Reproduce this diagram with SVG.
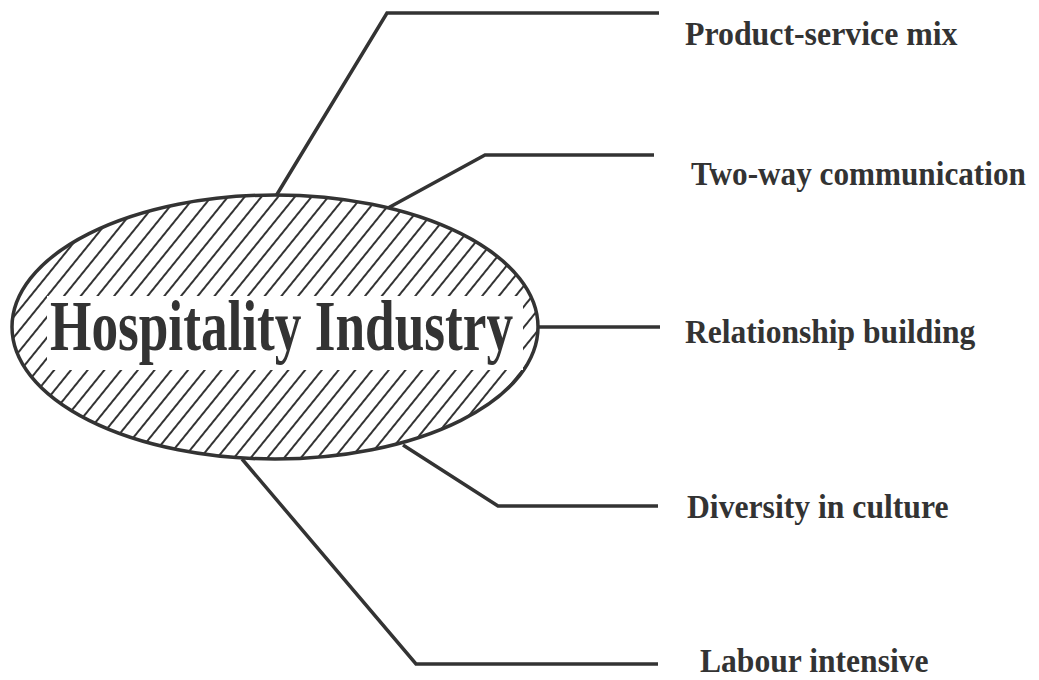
<svg xmlns="http://www.w3.org/2000/svg" width="1039" height="680" viewBox="0 0 1039 680">
  <style>
    .conn { fill: none; stroke: #333; stroke-width: 3.5; stroke-linejoin: miter; }
    .label { font-family: "Liberation Serif", "Times New Roman", serif; font-weight: bold; font-size: 33px; fill: #333; }
    .title { font-family: "Liberation Serif", "Times New Roman", serif; font-weight: bold; font-size: 71px; fill: #333; }
  </style>
  <defs>
    <pattern id="hatch" patternUnits="userSpaceOnUse" width="13" height="13" patternTransform="rotate(39)">
      <rect width="13" height="13" fill="#fff"/>
      <line x1="2" y1="0" x2="2" y2="13" stroke="#333" stroke-width="2"/>
    </pattern>
  </defs>
  <rect width="1039" height="680" fill="#fff"/>

  <g id="connectors">
    <polyline class="conn" points="276,196 387,13 659,13"/>
    <polyline class="conn" points="388,208 485,155 654,155"/>
    <polyline class="conn" points="538,327 660,327"/>
    <polyline class="conn" points="403,445 498,506 658,506"/>
    <polyline class="conn" points="242,459 416,664 658,664"/>
  </g>

  <g id="hospitality-industry">
    <ellipse cx="275" cy="327" rx="263" ry="132" fill="url(#hatch)" stroke="#333" stroke-width="3.5"/>
    <rect x="47" y="296" width="476" height="74" fill="#fff"/>
    <text class="title" x="50" y="350" textLength="463" lengthAdjust="spacingAndGlyphs">Hospitality Industry</text>
  </g>

  <!-- labels are narrowed horizontally to the condensed bold face -->
  <g id="product-service-mix">
    <text class="label" transform="translate(685,45) scale(0.965,1)">Product-service mix</text>
  </g>
  <g id="two-way-communication">
    <text class="label" transform="translate(691,185) scale(0.946,1)">Two-way communication</text>
  </g>
  <g id="relationship-building">
    <text class="label" transform="translate(685,343) scale(0.957,1)">Relationship building</text>
  </g>
  <g id="diversity-in-culture">
    <text class="label" transform="translate(687,518) scale(0.96,1)">Diversity in culture</text>
  </g>
  <g id="labour-intensive">
    <text class="label" transform="translate(700,672) scale(0.958,1)">Labour intensive</text>
  </g>
</svg>
